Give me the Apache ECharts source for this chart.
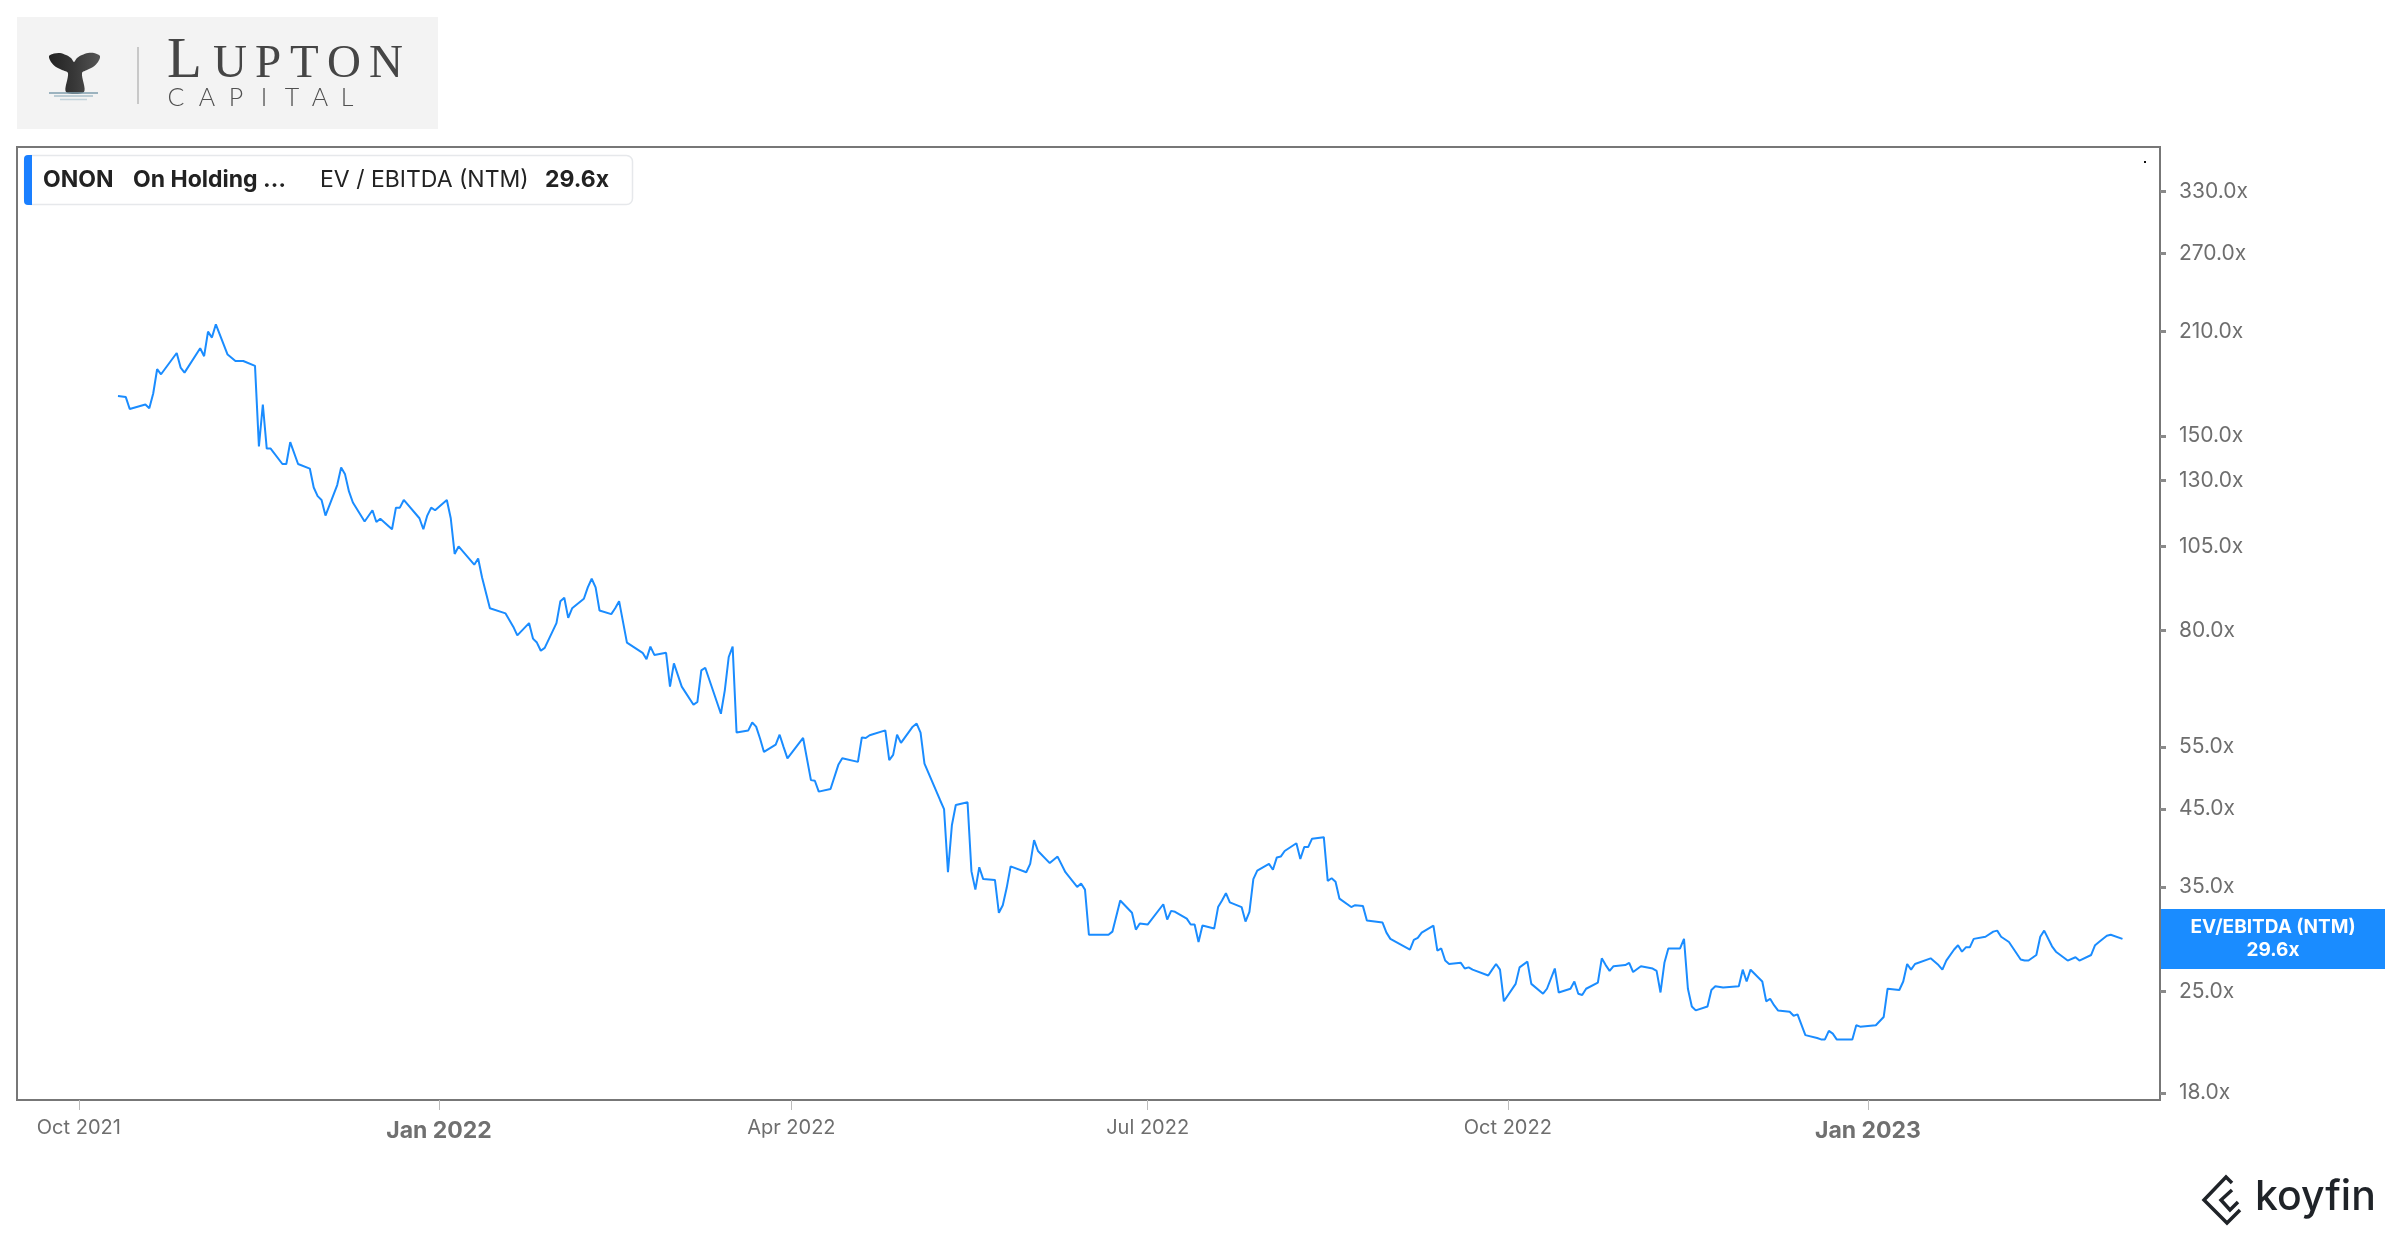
<!DOCTYPE html>
<html><head><meta charset="utf-8">
<script src="https://cdn.jsdelivr.net/npm/echarts@6/dist/echarts.min.js"></script>
<style>html,body{margin:0;padding:0;background:#fff}#c{width:2400px;height:1240px}</style>
</head><body><div id="c"></div>
<script>
const dates = [
'2021-10-11','2021-10-13','2021-10-14','2021-10-18','2021-10-19','2021-10-20','2021-10-21','2021-10-22','2021-10-26','2021-10-27',
'2021-10-28','2021-11-01','2021-11-02','2021-11-03','2021-11-04','2021-11-05','2021-11-08','2021-11-10','2021-11-12','2021-11-15',
'2021-11-16','2021-11-17','2021-11-18','2021-11-19','2021-11-22','2021-11-23','2021-11-24','2021-11-26','2021-11-29','2021-11-30',
'2021-12-01','2021-12-02','2021-12-03','2021-12-06','2021-12-07','2021-12-08','2021-12-09','2021-12-10','2021-12-13','2021-12-15',
'2021-12-16','2021-12-17','2021-12-20','2021-12-21','2021-12-22','2021-12-23','2021-12-27','2021-12-28','2021-12-29','2021-12-30',
'2021-12-31','2022-01-03','2022-01-04','2022-01-05','2022-01-06','2022-01-10','2022-01-11','2022-01-12','2022-01-14','2022-01-18',
'2022-01-20','2022-01-21','2022-01-24','2022-01-25','2022-01-26','2022-01-27','2022-01-28','2022-01-31','2022-02-01','2022-02-02',
'2022-02-03','2022-02-04','2022-02-07','2022-02-08','2022-02-09','2022-02-10','2022-02-11','2022-02-14','2022-02-15','2022-02-16',
'2022-02-18','2022-02-22','2022-02-23','2022-02-24','2022-02-25','2022-02-28','2022-03-01','2022-03-02','2022-03-04','2022-03-07',
'2022-03-08','2022-03-09','2022-03-10','2022-03-14','2022-03-15','2022-03-16','2022-03-17','2022-03-18','2022-03-21','2022-03-22',
'2022-03-23','2022-03-24','2022-03-25','2022-03-28','2022-03-29','2022-03-30','2022-03-31','2022-04-04','2022-04-06','2022-04-07',
'2022-04-08','2022-04-11','2022-04-13','2022-04-14','2022-04-18','2022-04-19','2022-04-20','2022-04-21','2022-04-25','2022-04-26',
'2022-04-27','2022-04-28','2022-04-29','2022-05-02','2022-05-03','2022-05-04','2022-05-05','2022-05-09','2022-05-10','2022-05-11',
'2022-05-12','2022-05-13','2022-05-16','2022-05-17','2022-05-18','2022-05-19','2022-05-20','2022-05-23','2022-05-24','2022-05-25',
'2022-05-26','2022-05-27','2022-05-31','2022-06-01','2022-06-02','2022-06-03','2022-06-06','2022-06-08','2022-06-10','2022-06-13',
'2022-06-14','2022-06-15','2022-06-16','2022-06-17','2022-06-21','2022-06-22','2022-06-24','2022-06-27','2022-06-28','2022-06-29',
'2022-07-01','2022-07-05','2022-07-06','2022-07-07','2022-07-08','2022-07-11','2022-07-12','2022-07-13','2022-07-14','2022-07-15',
'2022-07-18','2022-07-19','2022-07-20','2022-07-21','2022-07-22','2022-07-25','2022-07-26','2022-07-27','2022-07-28','2022-07-29',
'2022-08-01','2022-08-02','2022-08-03','2022-08-04','2022-08-05','2022-08-08','2022-08-09','2022-08-10','2022-08-11','2022-08-12',
'2022-08-15','2022-08-16','2022-08-17','2022-08-18','2022-08-19','2022-08-22','2022-08-23','2022-08-25','2022-08-26','2022-08-30',
'2022-08-31','2022-09-01','2022-09-06','2022-09-07','2022-09-08','2022-09-09','2022-09-12','2022-09-13','2022-09-14','2022-09-15',
'2022-09-16','2022-09-19','2022-09-20','2022-09-21','2022-09-22','2022-09-26','2022-09-27','2022-09-28','2022-09-29','2022-09-30',
'2022-10-03','2022-10-04','2022-10-06','2022-10-07','2022-10-10','2022-10-11','2022-10-13','2022-10-14','2022-10-17','2022-10-18',
'2022-10-19','2022-10-20','2022-10-21','2022-10-24','2022-10-25','2022-10-26','2022-10-27','2022-10-28','2022-10-31','2022-11-01',
'2022-11-02','2022-11-04','2022-11-07','2022-11-08','2022-11-09','2022-11-10','2022-11-11','2022-11-14','2022-11-15','2022-11-16',
'2022-11-17','2022-11-18','2022-11-21','2022-11-22','2022-11-23','2022-11-25','2022-11-29','2022-11-30','2022-12-01','2022-12-02',
'2022-12-05','2022-12-06','2022-12-07','2022-12-08','2022-12-09','2022-12-12','2022-12-13','2022-12-14','2022-12-16','2022-12-19',
'2022-12-20','2022-12-21','2022-12-22','2022-12-23','2022-12-24','2022-12-28','2022-12-29','2022-12-30','2023-01-03','2023-01-05',
'2023-01-06','2023-01-09','2023-01-10','2023-01-11','2023-01-12','2023-01-13','2023-01-17','2023-01-19','2023-01-20','2023-01-21',
'2023-01-23','2023-01-24','2023-01-25','2023-01-26','2023-01-27','2023-01-28','2023-01-31','2023-02-02','2023-02-03','2023-02-04',
'2023-02-06','2023-02-09','2023-02-10','2023-02-11','2023-02-13','2023-02-14','2023-02-15','2023-02-17','2023-02-18','2023-02-21',
'2023-02-23','2023-02-24','2023-02-27','2023-02-28','2023-03-01','2023-03-03','2023-03-04','2023-03-07'
];
const values = [
170.6,170,163.6,166,164,172,186,183,196,187,
184,199,194,210,206,215,195,191,191,188,
145,166,144,144,137,137,147,137,135,127,
123.5,122,116,128,135.5,132.5,125.4,121,113.8,118,
113.6,114.8,111,119,119,122,115,111,116,119,
118,122,115,102.5,105,99,101,95,86,84.6,
81,78.8,82,78,77,75,75.7,82,88,89,
83.4,86,88.7,92,94.6,92,85.4,84.4,86,88,
77,74.5,73,76,74,74.5,66.8,72,66.8,63,
63.6,70.4,71,61.2,66,73.5,76,57.6,58,59.5,
58.7,56.5,54.1,55.4,57.2,55,53,56.6,49.4,49.3,
47.6,48,51.9,53,52.4,56.7,56.6,57.1,58,52.7,
53.6,57.2,55.7,58.7,59.3,57.6,52.1,46.3,45,36.7,
42.7,45.6,46,36.8,34.7,37.3,35.9,35.8,32.2,33,
34.9,37.4,36.7,37.7,40.7,39.3,37.8,38.6,36.7,35,
35.4,34.7,30.0,30,30,30.3,33.5,32.2,30.5,31.1,
31,33.1,31.5,32.4,32.3,31.6,31,31,29.3,30.9,
30.6,32.8,33.5,34.3,33.3,32.8,31.3,32.3,35.9,36.9,
37.7,37.0,38.5,38.6,39.3,40.3,38.3,39.8,39.8,40.9,
41.1,35.7,36.0,35.6,33.7,32.8,33.0,32.9,31.4,31.2,
30.2,29.6,28.6,29.5,29.7,30.2,30.9,28.5,28.7,27.6,
27.3,27.4,26.9,27.0,26.8,26.3,26.8,27.3,26.8,24.2,
25.6,27,27.5,25.6,24.8,25.2,26.9,24.9,25.2,25.8,
24.8,24.7,25.2,25.7,27.8,27.2,26.7,27.1,27.2,27.4,
26.6,27.1,26.9,26.7,24.9,27.4,28.7,28.7,29.6,25.2,
23.8,23.5,23.8,25.1,25.4,25.3,25.4,26.8,25.8,26.8,
25.8,24.2,24.4,23.9,23.5,23.4,23.1,23.2,21.7,21.5,
21.4,21.4,22.0,21.8,21.4,21.4,22.4,22.3,22.4,23.0,
25.2,25.1,25.8,27.3,26.8,27.3,27.8,27.2,26.8,27.6,
28.6,29.0,28.4,28.8,28.8,29.6,29.8,30.3,30.4,29.8,
29.3,27.7,27.6,27.6,28.1,29.8,30.4,28.9,28.4,27.6,
27.9,27.6,28.1,29.0,29.3,29.9,30.0,29.6
];
const xTickDates = ['2021-10-01','2022-01-01','2022-04-01','2022-07-01','2022-10-01','2023-01-01'];
const xRange = ['2021-09-15T05:00:00Z','2023-03-16T14:00:00Z'];
const yTickValues = [18,25,35,45,55,80,105,130,150,210,270,330];
const monthNames = ['Jan','Feb','Mar','Apr','May','Jun','Jul','Aug','Sep','Oct','Nov','Dec'];
const ticker = 'ONON';
const companyName = 'On Holding …';
const metricName = 'EV / EBITDA (NTM)';
const metricTag = 'EV/EBITDA (NTM)';

const ts = s => Date.parse(s.length === 10 ? s + 'T00:00:00Z' : s);
const lastVal = values[values.length - 1];
const lastTxt = lastVal.toFixed(1) + 'x';
const BLUE = '#1a8cff';
const FONT = 'Inter';

const seriesData = dates.map((d, i) => [ts(d), values[i]]);
const xTicks = xTickDates.map(ts);

const lupton = [['L',167,57],['U',213,47],['P',255,47],['T',290,47],['O',327,47],['N',369,47]];
const capital = ['C','A','P','I','T','A','L'];
const capCenters = [176,207,236,264,292,320,347];
const tailPts = [[49,56],[54,53.5],[60,53],[66,55],[71,58],[74,62],[77,58],[82,55],[88,53],[94,53],[100,56],[98,62],[93,67],[87,70],[82,73],[84,92],[66,92],[68,73],[62,70],[56,67],[51,62]];

const graphics = [
  {type:'rect', shape:{x:17,y:17,width:421,height:112}, style:{fill:'#f3f3f3'}, silent:true},
  {type:'polygon', shape:{points:tailPts, smooth:0.3},
   style:{fill:new echarts.graphic.LinearGradient(0,0,1,0,[{offset:0,color:'#222'},{offset:0.5,color:'#383838'},{offset:1,color:'#555'}])}, silent:true},
  {type:'line', shape:{x1:49,y1:93,x2:98,y2:93}, style:{stroke:'#7f9eae',lineWidth:1.5}, silent:true},
  {type:'line', shape:{x1:54,y1:96,x2:93,y2:96}, style:{stroke:'#a9bfca',lineWidth:1.5}, silent:true},
  {type:'line', shape:{x1:60,y1:99.5,x2:87,y2:99.5}, style:{stroke:'#c3d3db',lineWidth:1.5}, silent:true},
  {type:'line', shape:{x1:138,y1:47,x2:138,y2:104}, style:{stroke:'#c8c8c8',lineWidth:2}, silent:true}
];
lupton.forEach(([ch,x,fs]) => graphics.push({type:'text', x:x, y:81 - 0.3375*fs, silent:true,
  style:{text:ch, fontFamily:'Liberation Serif', fontSize:fs, fill:'#454545', align:'left', verticalAlign:'middle'}}));
capital.forEach((ch,i) => graphics.push({type:'text', x:capCenters[i], y:98, silent:true,
  style:{text:ch, fontFamily:'Lato', fontWeight:300, fontSize:25, fill:'#505050', align:'center', verticalAlign:'middle'}}));

graphics.push(
  {type:'rect', shape:{x:24.5,y:155.5,width:608,height:49,r:6}, style:{fill:'#fff',stroke:'#e6e8eb',lineWidth:1.5}, silent:true},
  {type:'rect', shape:{x:24,y:155,width:8,height:50,r:[4,0,0,4]}, style:{fill:'#1a7fff'}, silent:true},
  {type:'text', x:43, y:180, silent:true, style:{text:ticker, fontFamily:FONT, fontWeight:700, fontSize:23, fill:'#222', verticalAlign:'middle'}},
  {type:'text', x:133, y:180, silent:true, style:{text:companyName, fontFamily:FONT, fontWeight:700, fontSize:23, fill:'#222', verticalAlign:'middle'}},
  {type:'text', x:320, y:180, silent:true, style:{text:metricName, fontFamily:FONT, fontWeight:400, fontSize:23, fill:'#222', verticalAlign:'middle'}},
  {type:'text', x:545, y:180, silent:true, style:{text:lastTxt, fontFamily:FONT, fontWeight:700, fontSize:23, fill:'#222', verticalAlign:'middle'}},
  {type:'rect', shape:{x:2144,y:161,width:2,height:2}, style:{fill:'#111'}, silent:true}
);
graphics.push(
  {type:'polyline', shape:{points:[[2232,1183],[2226,1177],[2204,1200],[2227,1223],[2240,1210]]}, style:{stroke:'#1f2328',lineWidth:3.5,fill:null}, silent:true},
  {type:'polyline', shape:{points:[[2232,1190],[2221,1200],[2230,1210],[2238,1202]]}, style:{stroke:'#1f2328',lineWidth:3.5,fill:null}, silent:true},
  {type:'text', x:2255, y:1198, silent:true, style:{text:'koyfin', fontFamily:FONT, fontWeight:500, fontSize:41, fill:'#1f2328', verticalAlign:'middle'}}
);

const chart = echarts.init(document.getElementById('c'), null, {renderer:'canvas'});
chart.setOption({
  animation:false,
  backgroundColor:'#fff',
  graphic:graphics,
  grid:{left:17, top:147, right:240, bottom:140, show:true, borderColor:'#777', borderWidth:2, containLabel:false},
  xAxis:{
    type:'value',
    min:ts(xRange[0]), max:ts(xRange[1]),
    axisLine:{show:true, lineStyle:{color:'#777', width:2}},
    axisTick:{show:true, customValues:xTicks, length:10, lineStyle:{color:'#bbb', width:1}},
    splitLine:{show:false},
    axisLabel:{
      customValues:xTicks, margin:18,
      formatter:function(v){ const d=new Date(v); const t=monthNames[d.getUTCMonth()]+' '+d.getUTCFullYear(); return d.getUTCMonth()===0 ? '{b|'+t+'}' : '{a|'+t+'}'; },
      rich:{
        a:{fontFamily:FONT, fontSize:20, color:'#6e6e6e', lineHeight:20},
        b:{fontFamily:FONT, fontSize:23, fontWeight:700, color:'#707070', lineHeight:26}
      }
    }
  },
  yAxis:{
    type:'log', logBase:10, position:'right',
    min:17.6, max:381,
    axisLine:{show:true, lineStyle:{color:'#777', width:2}},
    axisTick:{show:true, customValues:yTickValues, length:6, lineStyle:{color:'#8a8a8a', width:3}},
    splitLine:{show:false},
    axisLabel:{
      customValues:yTickValues, margin:19,
      formatter:function(v){ return Number(v).toFixed(1)+'x'; },
      fontFamily:FONT, fontSize:21, color:'#6e6e6e'
    }
  },
  series:[{
    type:'line', name:metricTag, data:seriesData, showSymbol:false, symbol:'none',
    lineStyle:{color:BLUE, width:2}, itemStyle:{color:BLUE},
    markLine:{
      silent:true, symbol:['none','none'],
      lineStyle:{color:'rgba(0,0,0,0)', width:0},
      data:[{yAxis:lastVal}],
      label:{
        show:true, position:'end', distance:1,
        formatter:'{a|'+metricTag+'}\n{a|'+lastTxt+'}',
        backgroundColor:BLUE, padding:[7,0,7,0],
        rich:{a:{width:224, align:'center', color:'#fff', fontFamily:FONT, fontWeight:700, fontSize:19, lineHeight:23}}
      }
    }
  }]
});
</script></body></html>
